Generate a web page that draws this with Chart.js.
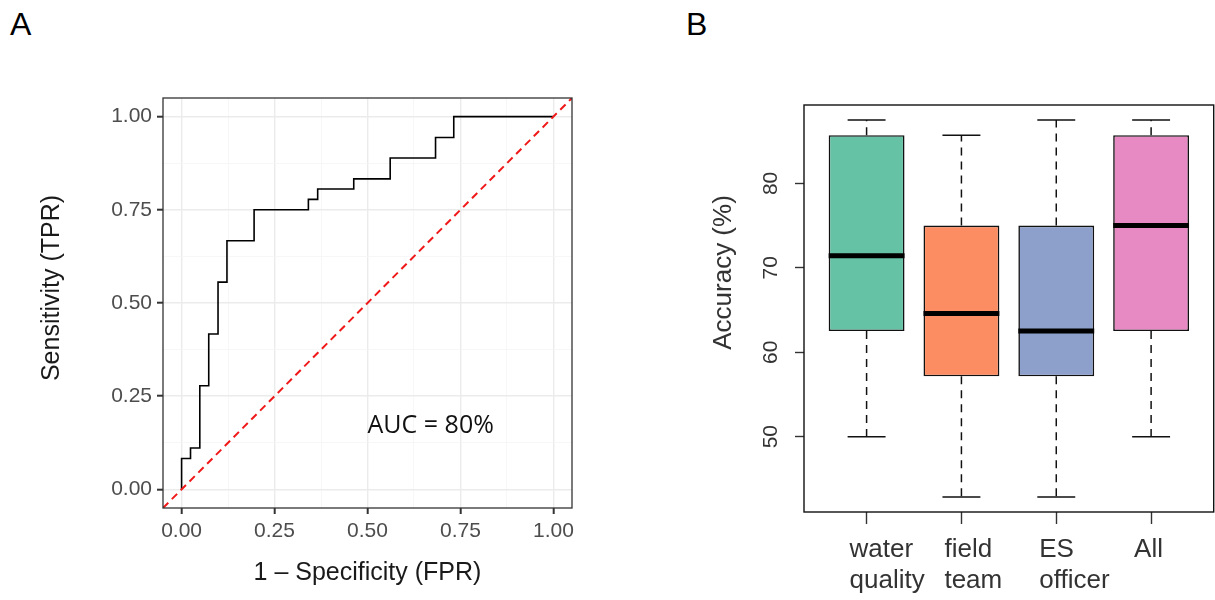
<!DOCTYPE html>
<html>
<head>
<meta charset="utf-8">
<script src="https://cdn.jsdelivr.net/npm/chart.js@4.4.0/dist/chart.umd.min.js"></script>
<style>
  body { margin: 0; background: #fff; width: 1215px; height: 600px; position: relative; overflow: hidden; font-family: "Liberation Sans", Arial, sans-serif; }
  .panel { position: absolute; top: 0; width: 600px; height: 600px; }
  .tag { position: absolute; font-size: 32px; line-height: 32px; color: #000; }
</style>
</head>
<body>
<div class="tag" style="left:10px;top:8px">A</div>
<div class="tag" style="left:686px;top:8px">B</div>
<div class="panel" style="left:0"><canvas id="rocChart" width="600" height="600"></canvas></div>
<div class="panel" style="left:615px"><canvas id="boxChart" width="600" height="600"></canvas></div>
<script>
// panel A: ROC curve corners
const fpr = [0, 0, 0.024, 0.049, 0.073, 0.098, 0.122, 0.195, 0.341, 0.366, 0.463, 0.561, 0.683, 0.732, 1.0];
const tpr = [0, 0.083, 0.111, 0.278, 0.417, 0.556, 0.667, 0.75, 0.778, 0.806, 0.833, 0.889, 0.944, 1.0, 1.0];
const diagX = [-0.05, 1.05];
const rocTicks = [0, 0.125, 0.25, 0.375, 0.5, 0.625, 0.75, 0.875, 1];
const aucText = 'AUC = 80%';

// panel B: accuracy boxplots
const groups = [['water', 'quality'], ['field', 'team'], ['ES', 'officer'], ['All']];
const whiskLow = [50, 42.86, 42.86, 50];
const q1 = [62.5, 57.14, 57.14, 62.5];
const med = [71.43, 64.6, 62.5, 75];
const q3 = [85.71, 75, 75, 85.71];
const whiskHigh = [87.5, 85.71, 87.5, 87.5];
const boxColors = ['#66c2a5', '#fc8d62', '#8da0cb', '#e78ac3'];
const accTicks = [50, 60, 70, 80];

const isMajor = v => Math.abs(v * 4 - Math.round(v * 4)) < 1e-9;

const framePlugin = {
  id: 'frame',
  afterDraw(chart, args, opts) {
    const a = chart.chartArea, c = chart.ctx;
    c.save();
    c.strokeStyle = opts.color;
    c.lineWidth = opts.width;
    c.strokeRect(a.left, a.top, a.right - a.left, a.bottom - a.top);
    c.restore();
  }
};

const sideTitle = {
  id: 'sideTitle',
  afterDraw(chart, args, opts) {
    const c = chart.ctx;
    c.save();
    c.translate(opts.x, opts.y);
    c.rotate(-Math.PI / 2);
    c.font = opts.font;
    c.fillStyle = opts.color;
    c.textAlign = 'center';
    c.textBaseline = 'middle';
    c.fillText(opts.text, 0, 0);
    c.restore();
  }
};

const aucLabel = {
  id: 'auc',
  afterDatasetsDraw(chart, args, opts) {
    const c = chart.ctx;
    c.save();
    c.font = opts.font;
    c.fillStyle = '#111';
    c.textAlign = 'center';
    c.textBaseline = 'middle';
    c.fillText(opts.text, chart.scales.x.getPixelForValue(opts.at[0]), chart.scales.y.getPixelForValue(opts.at[1]));
    c.restore();
  }
};

function rocScale(extra) {
  return Object.assign({
    type: 'linear', min: -0.05, max: 1.05,
    afterBuildTicks: s => { s.ticks = rocTicks.map(v => ({ value: v })); },
    border: { display: false },
    grid: {
      color: ctx => isMajor(ctx.tick.value) ? '#ebebeb' : '#f5f5f5',
      lineWidth: ctx => isMajor(ctx.tick.value) ? 1.4 : 0.8,
      tickColor: ctx => isMajor(ctx.tick.value) ? '#333' : 'rgba(0,0,0,0)',
      tickWidth: 2, tickLength: 6
    }
  }, extra);
}

new Chart(document.getElementById('rocChart'), {
  type: 'scatter',
  data: {
    datasets: [
      { data: fpr.map((x, i) => ({ x, y: tpr[i] })), showLine: true, stepped: 'before', borderColor: '#000', borderWidth: 1.6, pointRadius: 0, order: 1 },
      { data: diagX.map(v => ({ x: v, y: v })), showLine: true, borderColor: '#f01818', borderWidth: 2, borderDash: [7.5, 5], pointRadius: 0, order: 0 }
    ]
  },
  options: {
    responsive: false, animation: false,
    layout: { padding: { top: 98, right: 28, left: 0, bottom: 0 } },
    plugins: {
      legend: { display: false }, tooltip: { enabled: false },
      frame: { color: '#333', width: 1.3 },
      sideTitle: { text: 'Sensitivity (TPR)', x: 52.5, y: 288, font: '25px "Liberation Sans", Arial', color: '#1a1a1a' },
      auc: { text: aucText, at: [0.67, 0.17], font: '25px "Open Sans", sans-serif' }
    },
    scales: {
      x: rocScale({
        afterFit: s => { s.height = 92; },
        ticks: { callback: v => isMajor(v) ? v.toFixed(2) : '', color: '#4d4d4d', font: { size: 21, family: '"Liberation Sans", Arial' }, padding: 5, maxRotation: 0, autoSkip: false },
        title: { display: true, text: '1 – Specificity (FPR)', color: '#1a1a1a', font: { size: 25, family: '"Liberation Sans", Arial' }, padding: { top: 0, bottom: 12 } }
      }),
      y: rocScale({
        afterFit: s => { s.width = 163; },
        ticks: { callback: v => isMajor(v) ? v.toFixed(2) : '', color: '#4d4d4d', font: { size: 21, family: '"Liberation Sans", Arial' }, padding: 5, autoSkip: false }
      })
    }
  },
  plugins: [framePlugin, sideTitle, aucLabel]
});

// panel B
const boxHalf = 0.4, capHalf = 0.2;
const whiskerPts = [], capPts = [], medPts = [];
groups.forEach((g, i) => {
  const x = i + 1;
  whiskerPts.push({ x, y: q3[i] }, { x, y: whiskHigh[i] }, { x, y: null }, { x, y: q1[i] }, { x, y: whiskLow[i] }, { x, y: null });
  capPts.push({ x: x - capHalf, y: whiskHigh[i] }, { x: x + capHalf, y: whiskHigh[i] }, { x, y: null },
              { x: x - capHalf, y: whiskLow[i] }, { x: x + capHalf, y: whiskLow[i] }, { x, y: null });
  medPts.push({ x: x - boxHalf, y: med[i] }, { x: x + boxHalf, y: med[i] }, { x, y: null });
});
const lo = Math.min(...whiskLow), hi = Math.max(...whiskHigh), pad = (hi - lo) * 0.04;

new Chart(document.getElementById('boxChart'), {
  type: 'bar',
  data: {
    datasets: [
      { type: 'bar', data: groups.map((g, i) => ({ x: i + 1, y: [q1[i], q3[i]] })), backgroundColor: boxColors,
        borderColor: '#111', borderWidth: 1.6, borderSkipped: false, barPercentage: 0.8, categoryPercentage: 1, order: 3 },
      { type: 'line', data: whiskerPts, borderColor: '#111', borderWidth: 1.5, borderDash: [8, 6], pointRadius: 0, spanGaps: false, order: 2 },
      { type: 'line', data: capPts, borderColor: '#111', borderWidth: 1.5, pointRadius: 0, spanGaps: false, order: 2 },
      { type: 'line', data: medPts, borderColor: '#000', borderWidth: 5, borderCapStyle: 'butt', pointRadius: 0, spanGaps: false, order: 1 }
    ]
  },
  options: {
    responsive: false, animation: false,
    layout: { padding: { top: 105, right: 1.3, left: 0, bottom: 0 } },
    plugins: {
      legend: { display: false }, tooltip: { enabled: false },
      frame: { color: '#111', width: 1.4 },
      sideTitle: { text: 'Accuracy (%)', x: 109, y: 272.5, font: '26px "Liberation Sans", Arial', color: '#333' }
    },
    scales: {
      x: {
        type: 'linear', min: 1 - (boxHalf + 0.1) - 0.16, max: groups.length + 0.5 + 0.16, offset: false,
        afterBuildTicks: s => { s.ticks = groups.map((g, i) => ({ value: i + 1 })); },
        afterFit: s => { s.height = 88; },
        border: { display: false },
        grid: { offset: false, drawOnChartArea: false, tickLength: 12, tickColor: '#333', tickWidth: 1.4 },
        ticks: { callback: v => groups[Math.round(v) - 1], align: 'start', labelOffset: -17, padding: 10, maxRotation: 0, autoSkip: false,
                 color: '#333', font: { size: 26, family: '"Liberation Sans", Arial', lineHeight: 1.2 } }
      },
      y: {
        type: 'linear', min: lo - pad, max: hi + pad,
        afterBuildTicks: s => { s.ticks = accTicks.map(v => ({ value: v })); },
        afterFit: s => { s.width = 189; },
        border: { display: false },
        grid: { drawOnChartArea: false, tickLength: 9, tickColor: '#333', tickWidth: 1.4 },
        ticks: { minRotation: 90, maxRotation: 90, crossAlign: 'center', padding: 12, color: '#333', font: { size: 21, family: '"Liberation Sans", Arial' } }
      }
    }
  },
  plugins: [framePlugin, sideTitle]
});
</script>
</body>
</html>
